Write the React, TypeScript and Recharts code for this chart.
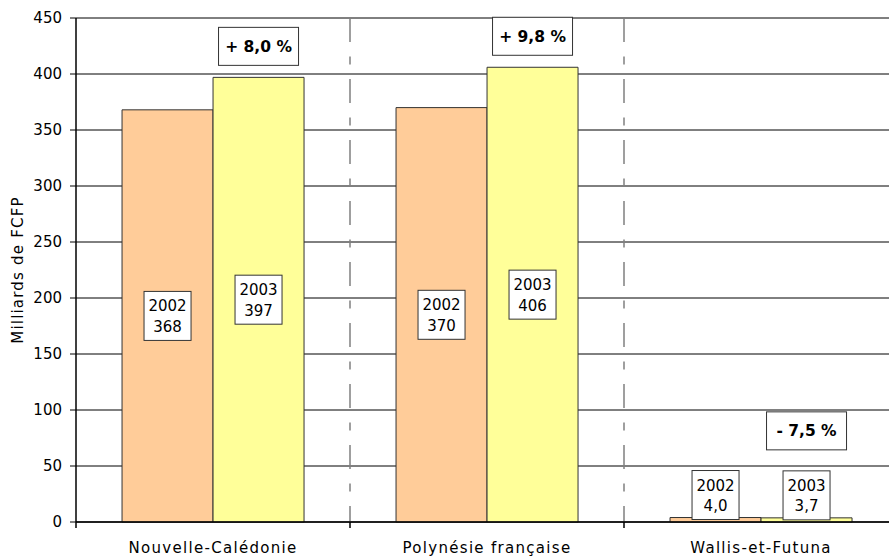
import { BarChart, Bar, XAxis, YAxis, CartesianGrid, LabelList, Label } from 'recharts';

const categories = ['Nouvelle-Calédonie', 'Polynésie française', 'Wallis-et-Futuna'];
const years = ['2002', '2003'];
const values2002 = [368, 370, 4.0];
const values2003 = [397, 406, 3.7];
const changes = ['+ 8,0 %', '+ 9,8 %', '- 7,5 %'];
const yTicks = [0, 50, 100, 150, 200, 250, 300, 350, 400, 450];

const FONT = '"DejaVu Sans", Verdana, sans-serif';
const TICK_SIZE = 6;
const TICK_MARGIN = 14;

const data = categories.map((name, i) => ({
  name,
  v2002: values2002[i],
  v2003: values2003[i],
}));

const fmt = (v: number) => (v < 10 ? v.toFixed(1).replace('.', ',') : String(Math.round(v)));

// white box with year + value, centred in the bar (or sitting on top of a tiny bar)
const makeValueBox = (year: string) => (props: any) => {
  const { x, y, width, height, value } = props;
  const w = 47;
  const h = 49;
  const cx = x + width / 2;
  const cy = height < h ? y + 2 - h / 2 : y + height / 2;
  return (
    <g>
      <rect x={cx - w / 2} y={cy - h / 2} width={w} height={h} fill="#fff" stroke="#333" strokeWidth={1} />
      <text x={cx} y={cy - 4.5} textAnchor="middle" fontFamily={FONT} fontSize={15} fill="#000">
        {year}
      </text>
      <text x={cx} y={cy + 16} textAnchor="middle" fontFamily={FONT} fontSize={15} fill="#000">
        {fmt(value)}
      </text>
    </g>
  );
};

const ChangeBox = (props: any) => {
  const { x, y, width, height, index } = props;
  const w = 80;
  const h = 38;
  const cx = x + width / 2;
  const bottom = height < 49 ? y - 68 : y - 12;
  return (
    <g>
      <rect x={cx - w / 2} y={bottom - h} width={w} height={h} fill="#fff" stroke="#333" strokeWidth={1} />
      <text x={cx} y={bottom - h / 2 + 5.5} textAnchor="middle" fontFamily={FONT} fontSize={15.5} fontWeight="bold" fill="#000">
        {changes[index]}
      </text>
    </g>
  );
};

// category label plus tick marks on the band boundaries
const CategoryTick = (props: any) => {
  const { x, y, payload, index, width, visibleTicksCount } = props;
  const band = width / visibleTicksCount;
  const axisY = y - TICK_SIZE - TICK_MARGIN;
  const left = x - band / 2;
  return (
    <g>
      <line x1={left} y1={axisY} x2={left} y2={axisY + TICK_SIZE} stroke="#000" strokeWidth={1.5} />
      {index === visibleTicksCount - 1 && (
        <line x1={x + band / 2} y1={axisY} x2={x + band / 2} y2={axisY + TICK_SIZE} stroke="#000" strokeWidth={1.5} />
      )}
      <text x={x} y={y} dy="0.71em" textAnchor="middle" fontFamily={FONT} fontSize={15} letterSpacing={1.3} fill="#000">
        {payload.value}
      </text>
    </g>
  );
};

// dashed separators between the categories
const separatorsAt = ({ offset }: any) => {
  const band = offset.width / categories.length;
  return categories.slice(1).map((_, i) => offset.left + band * (i + 1));
};

export default function App() {
  return (
    <div style={{ position: 'fixed', left: 0, top: 0, width: 889, height: 557, overflow: 'hidden', background: '#fff' }}>
      <BarChart
        width={910}
        height={557}
        data={data}
        margin={{ top: 18, right: 12, bottom: 0, left: 0 }}
        barCategoryGap="16.8%"
        barGap={0}
      >
        <CartesianGrid vertical={false} stroke="#000" strokeWidth={1} />
        <CartesianGrid
          horizontal={false}
          verticalCoordinatesGenerator={separatorsAt}
          stroke="#808080"
          strokeWidth={1.5}
          strokeDasharray="24 14.5 8 14.5"
        />
        <XAxis
          dataKey="name"
          height={35}
          interval={0}
          tickLine={false}
          axisLine={{ stroke: '#000', strokeWidth: 1.5 }}
          tickSize={TICK_SIZE}
          tickMargin={TICK_MARGIN}
          tick={<CategoryTick />}
        />
        <YAxis
          domain={[0, 450]}
          ticks={yTicks}
          width={76}
          tickSize={6}
          tickMargin={8}
          interval={0}
          tickLine={{ stroke: '#000' }}
          axisLine={{ stroke: '#000', strokeWidth: 1.5 }}
          tick={{ fontFamily: FONT, fontSize: 15, fill: '#000' }}
        >
          <Label
            content={({ viewBox }: any) => {
              const cy = viewBox.y + viewBox.height / 2;
              return (
                <text
                  x={23}
                  y={cy}
                  transform={`rotate(-90, 23, ${cy})`}
                  textAnchor="middle"
                  fontFamily={FONT}
                  fontSize={15}
                  letterSpacing={1.2}
                  fill="#000"
                >
                  Milliards de FCFP
                </text>
              );
            }}
          />
        </YAxis>
        <Bar dataKey="v2002" fill="#FFCC99" stroke="#333" strokeWidth={1} isAnimationActive={false}>
          <LabelList dataKey="v2002" content={makeValueBox(years[0])} />
        </Bar>
        <Bar dataKey="v2003" fill="#FFFF99" stroke="#333" strokeWidth={1} isAnimationActive={false}>
          <LabelList dataKey="v2003" content={makeValueBox(years[1])} />
          <LabelList dataKey="v2003" content={ChangeBox} />
        </Bar>
      </BarChart>
    </div>
  );
}
